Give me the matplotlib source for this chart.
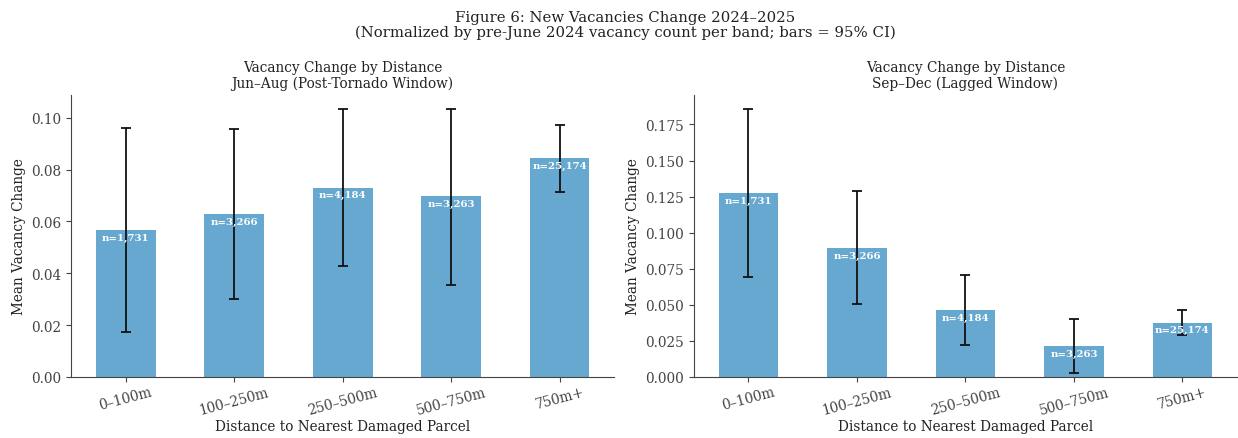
import numpy as np
import matplotlib
matplotlib.use("Agg")
from matplotlib import pyplot as plt

# distance bands and sample sizes
bands = ["0–100m", "100–250m", "250–500m", "500–750m", "750m+"]
counts = ["n=1,731", "n=3,266", "n=4,184", "n=3,263", "n=25,174"]

# Jun-Aug window: means and 95% CI bounds
summer_mean = [0.0567, 0.0629, 0.0730, 0.0697, 0.0843]
summer_lo = [0.0175, 0.0300, 0.0428, 0.0355, 0.0715]
summer_hi = [0.0960, 0.0955, 0.1035, 0.1035, 0.0970]

# Sep-Dec window
fall_mean = [0.1276, 0.0894, 0.0465, 0.0215, 0.0377]
fall_lo = [0.0690, 0.0505, 0.0220, 0.0025, 0.0290]
fall_hi = [0.1860, 0.1290, 0.0710, 0.0405, 0.0465]

plt.rcParams["font.family"] = ["DejaVu Serif"]
plt.rcParams["axes.edgecolor"] = "#444444"
plt.rcParams["xtick.color"] = "#444444"
plt.rcParams["ytick.color"] = "#444444"
plt.rcParams["text.color"] = "#222222"
plt.rcParams["axes.labelcolor"] = "#222222"

fig = plt.figure(figsize=(12.38, 4.39), dpi=100)
ax1 = fig.add_axes([0.0575, 0.139, 0.4386, 0.642])
ax2 = fig.add_axes([0.5605, 0.139, 0.4386, 0.642])

panels = [
    (ax1, summer_mean, summer_lo, summer_hi, "Jun–Aug (Post-Tornado Window)"),
    (ax2, fall_mean, fall_lo, fall_hi, "Sep–Dec (Lagged Window)"),
]

for ax, mean, lo, hi, sub in panels:
    x = np.arange(len(bands))
    mean = np.array(mean)
    yerr = [mean - np.array(lo), np.array(hi) - mean]
    ax.bar(x, mean, width=0.55, color="#66a8cf")
    ax.errorbar(x, mean, yerr=yerr, fmt="none", ecolor="#111111",
                elinewidth=1.3, capsize=3.5, capthick=1.3)
    for xi, m, c in zip(x, mean, counts):
        ax.annotate(c, (xi, m), xytext=(0, -2), textcoords="offset points",
                    ha="center", va="top", fontsize=7.3, fontweight="bold",
                    color="white")
    ax.set_xticks(x)
    ax.set_xticklabels(bands, rotation=15, fontsize=9.8)
    ax.tick_params(axis="y", labelsize=9.8)
    ax.tick_params(axis="x", pad=2)
    ax.set_title("Vacancy Change by Distance\n" + sub, fontsize=9.8,
                 linespacing=1.1)
    ax.set_xlabel("Distance to Nearest Damaged Parcel", fontsize=9.8,
                  labelpad=2)
    ax.set_ylabel("Mean Vacancy Change", fontsize=9.8)
    ax.spines["top"].set_visible(False)
    ax.spines["right"].set_visible(False)

ax1.set_yticks([0.0, 0.02, 0.04, 0.06, 0.08, 0.10])
ax1.set_yticklabels(["0.00", "0.02", "0.04", "0.06", "0.08", "0.10"])
ax2.set_yticks([0.0, 0.025, 0.05, 0.075, 0.1, 0.125, 0.15, 0.175])
ax2.set_yticklabels(["0.000", "0.025", "0.050", "0.075", "0.100",
                     "0.125", "0.150", "0.175"])

fig.suptitle("Figure 6: New Vacancies Change 2024–2025\n"
             "(Normalized by pre-June 2024 vacancy count per band; bars = 95% CI)",
             x=0.505, y=0.975, fontsize=10.7, linespacing=1.05)

fig.savefig("out.png", dpi=100)
